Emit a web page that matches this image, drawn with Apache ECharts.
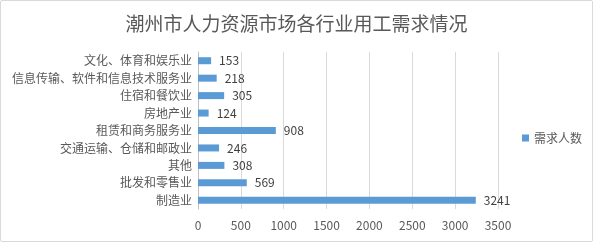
<!DOCTYPE html>
<html><head><meta charset="utf-8">
<script src="https://cdn.jsdelivr.net/npm/echarts@6/dist/echarts.min.js"></script>
<style>html,body{margin:0;padding:0;background:#fff}#c{width:593px;height:242px;box-sizing:border-box;border:1px solid #d9d9d9;border-radius:2px}</style>
</head><body><div id="c"></div>
<script>
var categories = ['制造业','批发和零售业','其他','交通运输、仓储和邮政业','租赁和商务服务业','房地产业','住宿和餐饮业','信息传输、软件和信息技术服务业','文化、体育和娱乐业'];
var values = [3241,569,308,246,908,124,305,218,153];
var seriesName = '需求人数';
var chart = echarts.init(document.getElementById('c'));
var font = '"Microsoft YaHei","Noto Sans CJK SC",sans-serif';
chart.setOption({
  animation:false,
  title:{text:'潮州市人力资源市场各行业用工需求情况',left:'center',top:8,textStyle:{fontFamily:font,fontSize:19,fontWeight:'normal',color:'#595959'}},
  legend:{data:[seriesName],orient:'vertical',left:516,top:126,itemWidth:7,itemHeight:7,itemGap:4,icon:'rect',textStyle:{fontFamily:font,fontSize:12,color:'#595959'}},
  grid:{left:197,width:300,top:51,height:157,containLabel:false},
  xAxis:{type:'value',min:0,max:3500,interval:500,axisLine:{show:false},axisTick:{show:false},
    splitLine:{lineStyle:{color:'#d9d9d9'}},axisLabel:{fontFamily:font,fontSize:12,color:'#595959',margin:10,formatter:function(v){return String(v);}}},
  yAxis:{type:'category',data:categories,axisTick:{show:false},axisLine:{lineStyle:{color:'#bfbfbf'}},
    axisLabel:{fontFamily:font,fontSize:12,color:'#595959',margin:6}},
  series:[{name:seriesName,type:'bar',data:values,barWidth:7,itemStyle:{color:'#5b9bd5'},
    label:{show:true,position:'right',distance:8,fontFamily:font,fontSize:12,color:'#404040'}}]
});
</script></body></html>
